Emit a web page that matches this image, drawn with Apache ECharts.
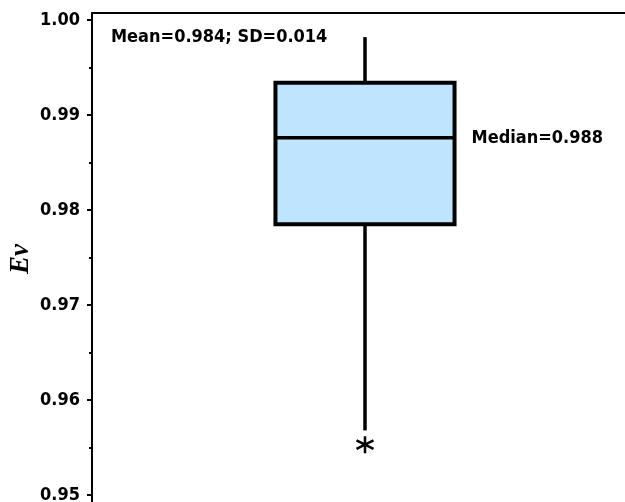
<!DOCTYPE html>
<html>
<head>
<meta charset="utf-8">
<script src="https://cdn.jsdelivr.net/npm/echarts@6/dist/echarts.min.js"></script>
<style>
  html, body { margin: 0; padding: 0; background: #fff; }
  #chart { width: 625px; height: 502px; }
</style>
</head>
<body>
<div id="chart"></div>
<script>
// ---- data ----
const categories = [''];
// [lower whisker, Q1, median, Q3, upper whisker]
const boxValues = [[0.9568, 0.9785, 0.9876, 0.9934, 0.9982]];
const outliers = [[0, 0.9553]];
const meanValue = 0.984;
const sdValue = 0.014;
const yTickValues = [0.95, 0.96, 0.97, 0.98, 0.99, 1.00];
const yMinorTickValues = [0.955, 0.965, 0.975, 0.985, 0.995];
const yAxisTitle = 'Ev';

// ---- styles ----
const FONT = 'DejaVu Sans Condensed';
const boxFill = '#bfe4fd';
const boxRatio = 0.328;

const chart = echarts.init(document.getElementById('chart'), null, { renderer: 'canvas' });

const starPath = 'path://M0,-10L0,10M-8.66,-5L8.66,5M-8.66,5L8.66,-5';

const option = {
  backgroundColor: '#fff',
  animation: false,
  grid: { left: 92, top: 13, right: -13, bottom: 0, containLabel: false, outerBoundsMode: 'none' },
  xAxis: {
    type: 'category',
    data: categories,
    position: 'top',
    axisLine: { show: true, lineStyle: { color: '#000', width: 2 } },
    axisTick: { show: false },
    axisLabel: { show: false },
    splitLine: { show: false }
  },
  yAxis: [{
    type: 'value',
    min: 0.94926,
    max: 1.00074,
    axisLine: { show: true, lineStyle: { color: '#000', width: 2 } },
    axisTick: { show: true, length: 5, lineStyle: { color: '#000', width: 2 }, customValues: yTickValues },
    axisLabel: {
      customValues: yTickValues,
      formatter: v => v.toFixed(2),
      fontFamily: FONT, fontWeight: 'bold', fontSize: 18, color: '#000', margin: 12
    },
    splitLine: { show: false }
  }, {
    type: 'value',
    position: 'left',
    min: 0.94926,
    max: 1.00074,
    axisLine: { show: false },
    axisTick: { show: true, length: 3, lineStyle: { color: '#000', width: 2 }, customValues: yMinorTickValues },
    axisLabel: { show: false },
    splitLine: { show: false }
  }],
  graphic: [{
    type: 'text',
    left: 111,
    top: 28,
    style: {
      text: 'Mean=' + meanValue.toFixed(3) + '; SD=' + sdValue.toFixed(3),
      font: 'bold 18px "DejaVu Sans Condensed"',
      fill: '#000'
    }
  }, {
    type: 'text',
    x: 21,
    y: 259,
    rotation: Math.PI / 2,
    style: {
      text: yAxisTitle,
      font: 'italic bold 27px "Liberation Serif"',
      fill: '#000',
      align: 'center',
      verticalAlign: 'middle'
    }
  }],
  series: [{
    type: 'custom',
    data: boxValues.map((d, i) => [i].concat(d)),
    encode: { x: 0, y: [1, 2, 3, 4, 5] },
    clip: false,
    renderItem: function (params, api) {
      const xi = api.value(0);
      const lo = api.coord([xi, api.value(1)]);
      const q1 = api.coord([xi, api.value(2)]);
      const med = api.coord([xi, api.value(3)]);
      const q3 = api.coord([xi, api.value(4)]);
      const hi = api.coord([xi, api.value(5)]);
      const bw = api.size([1, 0])[0] * boxRatio;
      const cx = med[0];
      const stroke = { stroke: '#000', lineWidth: 3.5 };
      return {
        type: 'group',
        children: [
          { type: 'line', shape: { x1: cx, y1: hi[1], x2: cx, y2: q3[1] }, style: stroke },
          { type: 'line', shape: { x1: cx, y1: q1[1], x2: cx, y2: lo[1] }, style: stroke },
          { type: 'rect', shape: { x: cx - bw / 2, y: q3[1], width: bw, height: q1[1] - q3[1] },
            style: { fill: boxFill, stroke: '#000', lineWidth: 4 } },
          { type: 'line', shape: { x1: cx - bw / 2, y1: med[1], x2: cx + bw / 2, y2: med[1] }, style: stroke },
          { type: 'text', x: cx + bw / 2 + 17, y: med[1] + 1,
            style: { text: 'Median=' + api.value(3).toFixed(3), font: 'bold 18px "DejaVu Sans Condensed"',
                     fill: '#000', verticalAlign: 'middle', align: 'left' } }
        ]
      };
    }
  }, {
    type: 'scatter',
    data: outliers,
    symbol: starPath,
    symbolSize: 17,
    itemStyle: { color: 'rgba(0,0,0,0)', borderColor: '#000', borderWidth: 2.5, opacity: 1 }
  }]
};

chart.setOption(option);
</script>
</body>
</html>
